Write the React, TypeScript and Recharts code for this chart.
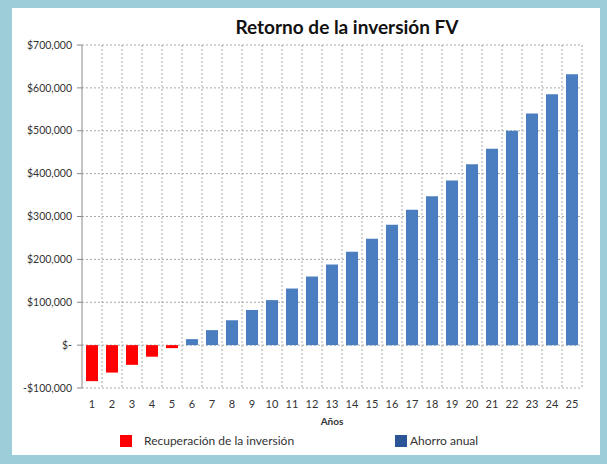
import React from 'react';
import { BarChart, Bar, XAxis, YAxis, CartesianGrid, Legend } from 'recharts';

const years = [1, 2, 3, 4, 5, 6, 7, 8, 9, 10, 11, 12, 13, 14, 15, 16, 17, 18, 19, 20, 21, 22, 23, 24, 25];
const recuperacion = [-84000, -64000, -46000, -27000, -7000, null, null, null, null, null, null, null, null, null, null, null, null, null, null, null, null, null, null, null, null];
const ahorro = [null, null, null, null, null, 14000, 35000, 58000, 82000, 105000, 132000, 160000, 188000, 218000, 248000, 281000, 316000, 347000, 384000, 422000, 458000, 500000, 540000, 585000, 632000];
const yTicks = [-100000, 0, 100000, 200000, 300000, 400000, 500000, 600000, 700000];

const data = years.map((y, i) => ({ year: y, rec: recuperacion[i], aho: ahorro[i] }));

const fmt = (v: number) => {
  if (v === 0) return '$-';
  const s = '$' + Math.abs(v).toLocaleString('en-US');
  return v < 0 ? '-' + s : s;
};

const font = 'Lato, "Open Sans", sans-serif';

const LegendBox = () => (
  <div style={{ position: 'relative', height: 20, fontFamily: font, fontSize: 12, color: '#333' }}>
    <div style={{ position: 'absolute', left: 120, top: 3, width: 12, height: 12, background: '#ff0000' }} />
    <div style={{ position: 'absolute', left: 144, top: 1 }}>Recuperación de la inversión</div>
    <div style={{ position: 'absolute', left: 395, top: 3, width: 12, height: 12, background: '#2b5597' }} />
    <div style={{ position: 'absolute', left: 410, top: 1 }}>Ahorro anual</div>
  </div>
);

export default function App() {
  return (
    <div style={{ position: 'fixed', left: 0, top: 0, width: 607, height: 464, background: '#9dcdd9' }}>
      <div style={{ position: 'absolute', left: 12, top: 8, width: 588, height: 447, background: '#ffffff' }} />
      <div
        style={{
          position: 'absolute', left: 90, top: 15, width: 514, textAlign: 'center',
          fontFamily: font, fontWeight: 700, fontSize: 19, color: '#111',
        }}
      >
        Retorno de la inversión FV
      </div>
      <div style={{ position: 'absolute', left: 0, top: 0 }}>
        <BarChart width={607} height={464} data={data} margin={{ top: 45, right: 25, left: 0, bottom: 16 }}>
          <CartesianGrid
            stroke="#a8a8a8"
            strokeDasharray="2 2"
            verticalCoordinatesGenerator={({ offset }: any) =>
              years.map((_, i) => offset.left + ((i + 1) * offset.width) / years.length)
            }
          />
          <XAxis
            dataKey="year"
            tickLine={false}
            axisLine={false}
            interval={0}
            tick={{ fontFamily: font, fontSize: 11, fill: '#333', dy: 4 }}
            height={40}
            label={{ value: 'Años', position: 'insideBottom', offset: 3, style: { fontFamily: font, fontSize: 10, fontWeight: 700, fill: '#333' } }}
          />
          <YAxis
            width={82}
            domain={[-100000, 700000]}
            ticks={yTicks}
            tickFormatter={fmt}
            stroke="#888"
            tickSize={5}
            tick={{ fontFamily: font, fontSize: 10.5, fill: '#333', dx: -3 }}
          />
          <Legend verticalAlign="bottom" content={() => <LegendBox />} wrapperStyle={{ left: 0, width: 607, bottom: 12 }} />
          <Bar dataKey="rec" stackId="a" fill="#ff0000" barSize={12} isAnimationActive={false} name="Recuperación de la inversión" />
          <Bar dataKey="aho" stackId="a" fill="#4a7ec0" barSize={12} isAnimationActive={false} name="Ahorro anual" />
        </BarChart>
      </div>
    </div>
  );
}
